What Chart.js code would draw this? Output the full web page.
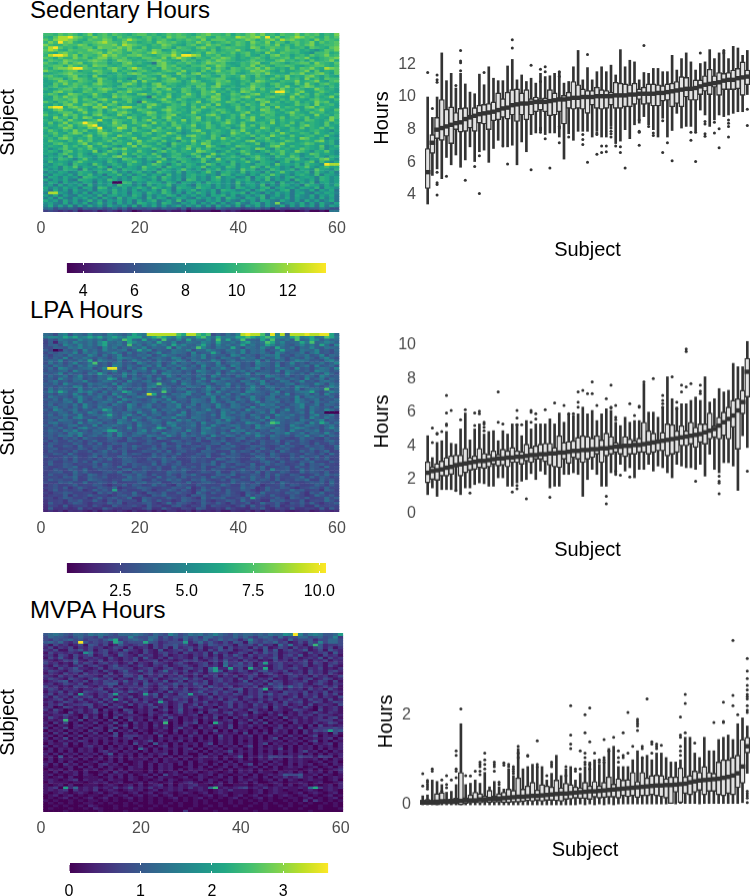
<!DOCTYPE html>
<html>
<head>
<meta charset="utf-8">
<script src="https://cdn.jsdelivr.net/npm/chart.js@4"></script>
<style>
  body { margin: 0; background: #fff; }
  #page { position: relative; width: 750px; height: 896px; overflow: hidden; font-family: "Liberation Sans", sans-serif; }
  canvas { position: absolute; }
  .title { position: absolute; left: 30px; font-size: 24px; line-height: 28px; color: #000; }
</style>
</head>
<body>
<div id="page">
  <div class="title" style="top:-4px">Sedentary Hours</div>
  <div class="title" style="top:296px">LPA Hours</div>
  <div class="title" style="top:596px">MVPA Hours</div>
  <canvas id="heatSed"></canvas><canvas id="barSed"></canvas><canvas id="boxSed"></canvas>
  <canvas id="heatLpa"></canvas><canvas id="barLpa"></canvas><canvas id="boxLpa"></canvas>
  <canvas id="heatMvpa"></canvas><canvas id="barMvpa"></canvas><canvas id="boxMvpa"></canvas>
</div>
<script>
// heat map rows, top row first, one base-36 digit per day (estimated by eye)
const sedentaryRows = [
"eedfefeceg cefdfedcef fdecdfefed cefgeedfce dfgegdecfe egdfefcedg",
"dcfhhigfde gefecfdedc efdecgeffd egfdcfeedh gfgheidgce fhgefdcfdf",
"fdghhgfdcf eegfcdfhfe dfcefdcedf edgcfffded egfcefgdhf gedecgdfed",
"dgeifgdcee fghfedgeec decgfefdce dgefcdefdf ecgedgcfeb efdegcfdef",
"geddfeegfc efffgdhgfe dcedgfdcbe fcdgefdbdf ecfdefdgce cfdfgcdeef",
"ehifdeceff cgffegegdc fcddfebfed cfgdebefed dcgfcefedf cdebfedcfg",
"fhgdcfeeeg fecfgfdgef ecgfbcfdee cdecfbdeeg dbcfedgcdf eecdb9cfeg",
"edcfgedfee fgdgefdcfe dfhfedgecb decgfdedfc efcdbgdcfe decb9eefcd",
"dhiihegcfe dfhfgedffg edceffheii hgcedfcdeb dfcbecfgde bdecfdegde",
"fecfddgefc eggdfefcdc ffedgcfhfe bedcfegfdb dcefdbedef cfegcbdefg",
"cfedgfeddf gfebdgfecd cefgedcbfd ebdfdgfedb cdfdeccfgd ecebfcdegc",
"fdcegdfgcd feebdcfgde cb7fgdcedf dcegfefcbc edfgbcfedb deffcgedcf",
"deffcgedfc gffdcdfedb cedfgefcdb eefcdgfdcb edgcfdbeef ecbdeffdce",
"ecfgghiife decfgecfhf dcebgedfcd dcegcfebfe dfegdgecdb fcfegdchgf",
"gedceffbdd gfddgcedbe fdbcefedgc dbfcegdefe cdgfgecbeb cdegbfbdcf",
"bcdefgeedc dfdbcecfgf cdefdcbgdb fgcdbeedfc bdefdgdccb fegcdfgdbf",
"efdcdfgcdb gcbdcedcbe fdcbgebcfd dbfecbfdcd gdbfdbcfdg cdcfgdbecb",
"ceffbegfec dgecbdc9bf defbdfgcdb ebcdeffcbc fdbeecfdbg debgcebfee",
"bcdgfdcfed bgddbfcdgb gdcbeffebd gebcdfefcb debgfdcbed dgcdegcbef",
"cbfdgdfedc fgedcbfgeb dbfgcedcbd eefcbgedcb ecfedbefdc bfcgdbefdc",
"bdfccefdfd eecdbefcdb ecegfcdbce bfecfgcbdb cdgedbcfdg cbegfcdbec",
"dbceffdcef cfgfdbcfef dbfcegbcfe bdfcedbecb fegcfcdbgd cfdbcgecdb",
"bcfgdebcfe defcbfegdc bcefcddbfe cbfegcdbec gfdcdcfiie cegcbdfdcb",
"dfebcgfecd gdbcfdecbf gdbecfbcdg dbfedgbcfe bdfgcdbefc dgcebfdbce",
"cbfdgefcdb fdcbgefedc b7fcdgbcfe dbecgfcbed fgdbcefdcb gcfdbecdgb",
"bcfedfgcfe bfgdcbefcb dcbegdcfdb cdbefgcbfe bdcgfdbcec fdcbefdcbe",
"fdbefdgcde fbecgdcfb7 gdcbefdbec dgbcfdcfeb ecdbfgcebd cfbdcgefbc",
"cbecfgdcgf dgcfebdcbe cfgdbcedfb ecdfbgcbde bfdcgbedcb cfdebgcdeb",
"dhiicfgedb gfhcdfhhed bgdcbfedcb fcgdebcbcf dbecdfbgce dcbfgcedcb",
"bcfgdcdgeb cfbegdecbf edbcfgecdb efcbdfecbf dcebgfdbec cfbdcegcbf",
"dbceffbdgc efbdcfgebc egfbcfdecb gdbcecfdbc egbcdfecbe gdcbfdebcd",
"fcdbgefcdb fgdbcgebdc bfecdfgbcd ebcfgdbcec gbdcfdebcb fdecbgcdbe",
"cbgdebfcgf bcfedbcgeb dcfbegcdbc egbdcfbceb fdgcbedcfb decfbdcbge",
"dbefcgdcbd ehcbfedcfb egcdbfdcgb efbdcebfdb cegbcdfbec dcbfecbdgc",
"cfbdgcefig fbdcgebcfd dbgcebfcdb ecdfbcegdb fcbdecgbdc fbecdcbfbd",
"bdcfdgcefh ibcdfegcbd gebcdbfecd gbcfdbecbd gcfbedcbdf cbegdcbfcb",
"ebcdgfbdcg fibcdhgcfb decfbecgbd ebcfdbceab fdcbgebdcb ecfbdcfbeb",
"cfdbecgdfb cgdbefcbfd cbgedcbeab fgcbdecbfd gcbecdbfbc edcbdecb9c",
"bdfcbegfbd cfgecbdfbc efbdcgeb9b cdfbedcbge cfbdcbecgd bcedbfcbdb",
"dbecfdcbeg bdfcbgedcb ecbdfcbebf gdcbfd9bec dcfbecgdcb fcbdebcfb9",
"cdbfgebdcf cbedfcbdgb bcfecbdgcb edcbfcgdbe cb9edfbcec dbgfcbe9cb",
"bfdcbecgdf bcdfbecbdg cedbfbc9ec gbdfcbdcec bfgbcedbcf ebcdcfgbd9",
"cbefdbcegb dfcbedcgbf dcbeb9fdcb ecgfbcdebc dbcf9bedgc bcdfebcbd9",
"bdcbfcebdg bcfdb9cdgb fecbd9ebcf dcbgeb9cbf edcb9cfgdb ecbdcbf9bd",
"c9bdfcbecf dbc9fegcbd cbfd9ecbdg bfcebdcbe9 cdbgfb9ecd bcfdcbe9cb",
"bdc9efbdcb g9cfdbecbf cb9dfcebdc bgfdc9bebc fdb9cebdfc bgec9dcfb9",
"cb9dfcbeb9 cdfbc9gbec dbfc9bdebc fd9bgcebc9 dfbcb9ecfb dc9bfebcb9",
"9cbd9fbecb 9dcbfgcb9e bdcf9bedb9 cfbgd9bcec 9bdfcb9ecb fd9cbeb9dc",
"bc9edb8cfb 9cbdb9fecb 9dcbf9bedc 9bfc9gbdcb e9cfdb9cbe dfb9cbfgc9",
"9ebcb9dfcb cb9ec9bdfc 9b8gcbd9ec bcf9bdc9eb cfb9dcb8ce 9cbdf9eb9c",
"b9cdb8ecb9 fc9bdb9ecb 9cfdb8cebd c9bfd9cbe9 cb9ddc9fbc bd9ecb9ihh",
"9bc8dbf9cb 9ec7bd9cb9 fcbd8ecb9d bcf9cb9ed9 cbfd9ebc9b 8dcfb9cebc",
"c9b8dcb7e9 bc9fb8dcb9 ebc8db9cfb 9c8dbe9cb9 fcd8b9ec9b d8cb9fcb9d",
"8b9cb89dcb 8dcbe9b8cd 9b8ecb9d8c b9cfb8cdb9 e9cb8d9cfb 9cbd8eb9c8",
"b8cb9c8dbe 9b7cbe9c8b d9cb8e9b8c dbc9b8ed9c b8c9dbfc9b 8cdb9e8cb9",
"7cb8c9b7ed c9b8c9b8dc 9bd8ec9b8c d9b8cf9bc8 9d7cbe9b8c d9bcb8dc9b",
"c8b9c87dcb 8b9ec8b9dc b9c8db9c7e d9b8cd9b8c bd8c9e8b9c 7db9c8dc9b",
"8cb7c9b8cb 7c9b00ed8b 9dcb8db7cb 9c8dbc9b8e 9cb8b9c7d9 b8c9d7bc9b",
"9b7c8b9c7d 8b9c8ebc8b 7d9cbe8bc9 7dbc8c9b8d 8bc9e7b8dc 9b7ecb8c9d",
"c8b8c9b7cb 7ed8b9c8bd b8ec9b7dcb 9ecb8c9b7d c9b8cd7bc9 b8cb9d7cb9",
"b7c8b7c98b 7cb9d9b8c8 b9c8eb7c9b d8b9c7dcb8 9c7bd9b8cd 7b98c7b9c7",
"8hhb97b8c7 b9c8dab7cb 8db9ec8b7c 9db8c7b9cb d7c97b8c9b 7bc87b9cb8",
"b8c7b87c9b 8d7bc9b8db 7c8b9dc7b9 c8b7cbd8c7 9b8bd79c8b 7c98c7b9c7",
"8b7c87b9c8 b7c97d8bc9 7d8cb79cb8 7c9b8c7db9 7cb8d7b98c 7b98b7c8b7",
"c9b7c8b79d 8c7b9c8b7c 8bd79c8e7b c87b9c7b87 c8b7cb87c9 7b7c8b79c7",
"9b87c7b8c7 9d8b7c8b7d c9b7dc87b9 c7b8c7b79d 87bc7b8g79 b8c7b7c87b",
"8c7b7c6b7c 8b7c98b7c6 b8c7b79c7b 8c7b6c8b7c 6b8c7b87c6 b7c8b6c7b9",
"6746565365 5645746355 4554655362 5544375444 3456452533 4534557644",
"3432324122 3123213201 2211121120 1111002121 0000000010 0012001077"
];
const lpaRows = [
"cb8de9dcae bcaedcadfe dhhhhhhgfh hgfg8b9dbe hihhgdiehb hhhihhiifc",
"deedfefdef efdefedfff cefgfedfdc dfgecfdddf fgfefgfeec fgdefcdgfd",
"7a8dcbaecd bdaedcgfca fbdagcbeaf bdceagcfbd gcbafdgcbd agbcfeadbc",
"6a3bdaecbd aefcbdafec bdafcbe9ad cbedafcbda efcbdgfcea bcfdgbceda",
"7ab8ecaebd aefbcdagbd 9cebdafceb adfc9ebdac fbdacfebda 9cebdafc8e",
"87ba9dcebc a8ebd9cadb e9cbaf8eba cgeb9dcafb 8dcaeb9fca d8cbea9dcb",
"a703b9c8ea c9ebacd8af ce8ba9dcbe 8cbeca9dcb e9cbd8acfb a8dcbe9a8c",
"7a9bcae8db d9aceb8d9a c8be9adcb8 e9abfc8bda e9cbda8ec9 abd8ce9a8b",
"96ab8dab9e c8d9be8a9c bd8aecb9a8 dbe9cab8ed 9ca8bdce9a 8cbd9ae8cb",
"a8b9e8cadb 9ca8bedca9 d8bca9ed8b cae9b8dca9 ebc8d9aeb8 ca9db8cea8",
"9cae8b9daf 8ecb9d8aeb 9c8da9bec8 db9aec8bd9 acbe8d9ac8 bedc9a8deb",
"8d9c8be9ad g9b8cd9a8e c9bd8ae9cb 8dca9e8bcd 9a8ecb9d8a e9b8cad9be",
"a8db9c8dae c9b8ed9ca8 bd9e8cadb9 c8ea9db8ec 9a8dcb9e8a c9bd8e9ac8",
"9c8eda9bcd 8aeiib8d9c e8abd9c8eb a9d8cbea8d 9bce8a9cdb 8e9a8bdc9e",
"8a9bc8eb9a d8cbe9a8db c9e8adbc9a 8edb9c8aeb d9c8ab9e8d ca9b8edc9a",
"a9be8c9a8d bfc8a9ebd8 a9c8edab9c 8bda9e8cb9 ae8dcb9a8e b9c8da9eb8",
"8c9ad8be9a 8cbd9ae8c9 bd8a9eb8ca 9db8ec9a8d bc9a8edb9c 8a9db8ec9a",
"9a8eb9cd8a 9cbfe8a9db 8c9e8abd9c 8ae9b8dca9 8bec9a8db9 ca8e9bd8ca",
"8bd9a8cbe9 8adc9b8ea9 cd8b9ae8cb 9da8ecb9a8 dc9be8a9dc 8be9a8cdb9",
"a9c8eb9a8d bca9e8db9a 8cdgb9a8ec 9bda8cbe9a 8dc9eb8a9c d8ba9ec8db",
"9a8ba9ed8c 9bda8ecb9a 8de9cb8a9d cb8ea9bd8c 9aeb8dca9b 8edc9a8bec",
"8d9cba8e9a db8c9ea8bd 9c8aeb9cd8 a9bec8da9b 8cea9bd8ca 9e8bdcag9b",
"aebfd9bece a8d9cbfea9 8dcagb8a9e c9bd8ea9cb 8edca9be8a 9cddfa8bec",
"9a8cb9ea8d 9cb8ea9dc8 bhf9a8cbde 9a8ebc9d8a ec9ba8dc9e 8abd9c8ea9",
"8db9a8cea9 bd8c9ea8bd c9a8eb9cd8 a9cbe8da9c 8bea9cd8ba 9e8cdba9c8",
"a9c8db9ea8 cb9da8ecb9 8adc9e8ba9 dcb8e9ac8d b9ea8cdb9a 8ec9bd8a9c",
"8ba9cd8e9a 8bdc9ea8cb 9ad8cbe9a8 dcb9ea8cd9 b8ae9cbd8a 9ecb8da9cb",
"9c8ab9d8ea 9cb8da9ec8 bd9a8cbe9a d8cb9ea8dc 9b8aecd9a8 bce9ad8cb9",
"8ad9b8c9ea 8dbc9a8eb9 cd8a9cbe8d a9cb8ea9dc b8e9acbd8a 9ce8db9a8c",
"a8ec9bd8a9 cbfe9a8dbc 9ae8cbd9a8 c9bea8dc9b 8eacb9d8ae 9cb8da9ec8",
"8a9cb8da9e c8bda9cb8e a9db8ca9e8 bdc9a8ebd9 ca8bd9e8ca 9bd8e9a000",
"9c8bda9e8a cbdfb9cea8 d9bc8a9ed8 bca9d8eb9a c8db9a8ecb d9a8ce9bd8",
"8ab9c8dea9 8cbda9e8bc 9da8cbe9a8 dcb9a8edc9 b8ad9e8cbd a9c8eb9da8",
"9a8dcb9a8e c9ba8dc9ea 8bdc9a8ebd 9ca8bd9ea8 cb9ad8ecb9 a8db9ce8a9",
"8cd9ab8e9c bd8a9ecb8d a9cb8eda9b c8ea9dcb8a 9edb8cgfa9 bdc8eafd9c",
"a8b79cd8a9 e8cbda9c8e ba9d8ce9ab d8c9ea8bdc 9a8ebdc9a8 eb9dca8bd9",
"8a9c8b7dea 9cbd8a9e8c a9bfe8cd9a b8dea9cb8d 9a8ecb9da8 cedb9a8ceb",
"9ca8dbe9a8 cbdffb9a8c e9db8acb9e a8dcb9a8ec d9b8a9dcb8 ea9cbd8a9c",
"8b9a8dcea9 bc8d9ea8bd c9a8ebc9d8 a9ecb8da9c 8ebd9a8cbe 9ad8cb9ea8",
"9a8cbd9e8a c9bd8ea9cb 8dca9eb8da c9b8ea9dc8 ba9ec8db9a 8cbe9ad8ca",
"7a96a8b6c9 877ba96c87 9a6db877a9 6b8c97a68b c79a86ba97 68c9a76b88",
"96a77b8a69 c78a966ba8 7b9668ca79 8b66a9c78a 69b7a88c69 a7b9687ac9",
"6a9787b96a 7c68a9b776 9a88c67a9b 7698ab6c87 9a67b89a6c 78a96b77a8",
"8b67a96c78 a97b66a8c9 77a6b98c67 9a8b76a9c8 67ba9768c9 a76b89a67c",
"79a6787b96 a88c69a7b6 79c8a67b98 a66c79ab87 69a7c86a9b 7688c9a76b",
"6a8796b77a 69c8a7b667 a98b7c69a7 86ba9677c8 a96b78a6c9 77b8a69c67",
"77a96c8667 b9a776c8a9 66b7a98c67 7a9b68c7a9 67b8a6c977 a86b97a6c8",
"9667a8b769 c6a87ba967 78c9a6b768 a97c668ba9 767ca8b966 a7c89b6a77",
"6897a6b779 6a8c67ba97 6a78c9b667 a8976cb7a8 66a9c77b86 a97c6a8b67",
"7a6698b7a6 c97867ab96 78a6c97b66 a897c67ab9 6877ac96b7 86a9c776a8",
"6b77a96878 a6c966b7a9 87c6a79b68 77a9c6b86a 97c67b8a96 78c6a9b776",
"8667a9c676 b8a97c66a8 b97a66c897 a7b669c8a7 69b8c6779a 6b87a96c78",
"76a86b97c6 7a9886bc67 a97b66a8c9 77a6b98669 c8a7b6e99a 67c8b9a677",
"689a67c8b7 669a8c76b9 a6787ca9b6 68a97c66b8 a97c6a87b9 66c8a97b67",
"6a7796b86c a79667ba8c 96a77b86a9 c8667ba9c6 78a96b7c86 a9667b8c9a",
"7786a9c67b 98a6677c9b a86c79a6b7 88a6c97b66 a8c97b6a77 89c6b7a968",
"6a8977b66c a97687cb9a 66a78c9b76 a9c867a6b9 77c8a96b68 7a9c66b8a7",
"866a9b77c6 8a97b6677a c89b66a97c 68ab9677c8 a96b87a6c9 7768a9b6c7",
"579668b677 a96578b6a9 67c8a65b97 6a8777c966 b8a95778b6 a9667b96a7",
"6796a57b86 6a97c5678b a96677a98c 56b7a96877 c9a56b87a9 6578a96b77",
"57a6867956 b8a7f69667 a8577b96a7 58c97a6b77 a9656b8a77 c9a6785b96",
"6578a96677 5b8a6977c6 5a97b66a87 5c96a77b86 5a96c7786a 9b75a8c677",
"5676a5967b 867569a7b8 65a9c77685 a9b7669a87 5c7a96b766 a8756c97a6",
"6757a96685 7b69a78c55 a9767b86a9 65c7a9b668 a7f9667a85 b97a667c8a",
"5767598a66 b7596a7785 c96a6756b9 87a6577a96 c86755b9a7 66a5787c96",
"5a6757a965 676b8a5767 9a657c6a97 56b86a7596 7a56c87a65 97a6b6578a",
"4765a56675 9655a76796 5a67559a65 76a5976657 a5b6757a56 76955a6776",
"4a55645a56 45a7556645 7a55a65476 5a95565a65 5476a54765 a55665a5a6",
"3535254532 5254353253 3524255335 2534352254 3525253353 2345235434"
];
const mvpaRows = [
"5676546657 6765466676 5465486457 6756865465 6656576698 i85787556a",
"4655435644 3634444854 4663535464 5366454464 6435653634 4664564583",
"4354564534 4357b34565 4753434263 5463464542 4843454326 3445244664",
"5646324i53 4342b73444 b5423444a2 4635324254 1643546341 2425384664",
"3142312415 4241253234 3142445342 1425434314 3425231637 2314c52334",
"2413241324 2312431412 3142415234 2412351423 3142512431 4231352413",
"3241143524 1342315321 4215123425 1314253412 3421525134 2351241532",
"1423232196 2341243121 4213423142 3241523124 3142534123 3214234152",
"2314314235 1242153214 2312412321 3241314253 1423324134 2512314231",
"1425214132 3214213241 5213142321 4132413324 2314235132 4123251423",
"3212435213 2413213241 2341321243 4213425231 4231214231 3241324132",
"4231215243 1342312413 2143213421 2341316335 2413a23423 2341431342",
"2142312413 4213523124 2132412342 1342317244 3413213421 3241231421",
"3214235221 2413443312 3421342134 2316a22a24 1b32b13423 4213241213",
"2432134412 3142135225 2413623241 2415a51324 3124523241 2314231342",
"1321423142 3214124321 3423324132 4213324212 3241342134 2314231421",
"3214231433 2142314425 1324132421 3142413241 2431124213 4231423124",
"2432143213 5324132135 3241234352 4312342314 2413241213 2134124312",
"1234513241 3243425232 4132512413 3241342312 5132414312 3241243141",
"2312432412 3245513241 5324235342 5341324223 3423153412 3421342132",
"4231214342 1324132332 4213424132 3415323412 3241324536 3423124241",
"2431323122 3412421324 3213413241 2342341345 1324b13413 2314231421",
"1324132143 2341342532 4123152342 3523424314 1324132143 3241324132",
"2413241a32 1324a23112 a35132143a 2341423243 1324352342 3142314241",
"3142314234 1324132412 3241423342 3124132321 3424132312 4132413214",
"1234132412 3142a31241 3214124231 4123241341 3213241324 2314231412",
"2312431231 2413124132 412a312341 3241213423 1324123142 3412431243",
"1324123344 1241321413 2412312412 4132312413 2142313241 2314123214",
"2301431214 1203241013 1341302413 2412032413 2132404213 2142031231",
"3142012312 4031204312 1302412512 0213412132 1431203211 4321041231",
"1231041312 4120312402 1321202412 1403213412 2042131202 1312421321",
"2122421031 2030231221 0312421212 3021321312 4121021412 1323133212",
"1421312041 3020402312 1203142021 2131402031 2120312041 2131231341",
"1212c21402 1203020412 0312412021 3021212302 1413021202 3121233312",
"2031402021 3021402031 2021c02032 4020b31203 2031402120 3121312431",
"1202102312 0213024021 2031202131 0213121402 1312021302 1203041212",
"3021402120 3202402031 2021302412 0312021402 1202102312 1402233343",
"0212021203 1204021302 1012103021 2021402031 2020203120 2031434a45",
"2031302021 3020402120 2031202021 3020212120 4021302120 2031212041",
"1202021302 1212403332 1204021203 1202041202 1302021203 1202402120",
"2021402021 2120212302 1202120212 0202031202 1202024021 2021212302",
"1202121320 2021202021 2402021302 0212021202 0202121202 1202402021",
"0211302021 2020212041 2051202021 2024021202 1202402121 2020212302",
"2021201023 1202021202 0202302120 2021202120 2402021202 0212021202",
"0202120212 0202120206 2020212023 0202120212 0202121402 0212020212",
"1202020212 0231202120 2021202021 2020212402 1202020212 0241202021",
"2020212021 2025021202 0212302020 0202120212 0202120202 1202020212",
"1205020212 0202120202 1202020212 0231202125 0213144333 1433143302",
"0202112020 1202020211 2020212020 1211202012 0202131202 1211202021",
"1202020101 2012020012 0120211202 0210120202 1101202102 1210120120",
"2020312021 0231202012 0202120202 0120202120 2402021202 0212012021",
"1010120202 0202110212 0202120012 0202012021 0120202012 1201201202",
"0212020021 2012020211 0202120202 1210120202 1202012011 1012020123",
"1020212020 0120312011 0202012021 2012101202 1202110212 0202120202",
"1201012021 0202120201 2020412101 0212021011 2020121254 4511202101",
"1012020011 1012020210 1202110120 1210120202 0120202131 2412020121",
"1210123021 1202110210 1012021011 0202101202 1210120202 1012110120",
"0211101101 2120120012 0210120123 1012020201 2020012101 1210120012",
"1012020011 1012101202 0123020212 3110120011 1012101202 0120101202",
"1230a26121 3121312412 1312121213 1216c12123 4121312121 1216b31212",
"1212303121 3012101212 0120121201 1210121311 1012012101 1012101210",
"1012101210 1201210120 1201210121 0120121011 1012012110 1201210120",
"0120120101 1012012012 0120120101 1012012012 0120120121 0120101201",
"0101201012 0120101201 0101012010 1201010120 1012010101 1012010120",
"1010010101 1010100101 0101001010 1010100101 0101010010 1030310101",
"0101010011 0101001010 0101010100 1010010101 0010101001 0101001010",
"0010100102 1000101001 0010100100 1001010010 0100100101 0010010010",
"0100010010 2100100010 0100010001 0010001000 1000100010 0100010001",
"0000100000 0100001000 0000010030 0000100000 0010000000 0001000000"
];

// hours meant by each digit of the rows above
const sedLevels = [3.5,4.1,4.7,5.3,5.8,6.3,6.8,7.3,7.8,8.3,8.7,9.1,9.5,9.9,10.3,10.8,11.4,12.2,13.4];
const lpaLevels = [0.5,0.9,1.2,1.5,1.8,2.0,2.4,2.6,2.8,3.1,3.4,3.6,3.9,4.3,4.9,6.2,7.4,9.2,9.9];
const mvpaLevels = [0,0.2,0.4,0.6,0.8,1.0,1.2,1.4,1.6,1.8,2.0,2.2,2.4,2.6,2.8,3.0,3.2,3.4,3.6];

// colour bar ranges and ticks
const sedRange = [3.35, 13.5];
const lpaRange = [0.48, 10.25];
const mvpaRange = [0, 3.63];
const sedBarTicks = [4, 6, 8, 10, 12];
const lpaBarTicks = [2.5, 5, 7.5, 10];
const mvpaBarTicks = [0, 1, 2, 3];
const dayTicks = [0, 20, 40, 60];
const sedHourTicks = [4, 6, 8, 10, 12];
const lpaHourTicks = [0, 2, 4, 6, 8, 10];
const mvpaHourTicks = [0, 2];

// boxes, one entry per subject sorted by median
const sedLow = [3.45,5.2,5.6,5.0,6.3,5.85,6.45,5.7,6.15,6.95,6.05,6.65,6.75,6.0,6.85,7.35,7.05,6.95,7.05,5.85,7.25,6.65,7.7,7.8,7.9,7.7,7.8,7.8,7.55,6.2,7.75,7.35,7.9,7.9,7.9,7.55,7.9,7.55,7.55,8.2,7.15,7.3,8.0,7.45,8.3,8.4,8.8,8.3,8.0,7.55,8.7,7.55,7.95,9.0,8.1,8.2,8.2,7.9,9.2,8.9,8.2,8.6,8.9,8.8,8.9,9.0,9.1,9.1,10.15];
const sedQ1 = [4.4,6.55,7.45,7.35,7.6,7.15,8.0,7.85,7.9,8.1,7.9,8.4,8.35,8.0,8.55,8.6,8.75,8.65,8.9,8.5,8.9,8.6,8.9,9.1,9.2,9.1,8.85,8.9,9.1,8.35,9.3,9.25,9.3,9.25,9.0,9.5,9.3,9.25,9.3,9.5,9.3,9.3,9.4,9.4,9.55,9.85,9.55,9.6,9.45,9.45,9.75,9.8,9.4,9.6,9.4,10.0,9.8,9.8,10.15,10.35,10.15,10.6,10.1,10.45,10.45,10.45,10.5,10.1,10.75];
const sedMedian = [5.4,7.2,8.0,8.1,8.2,8.3,8.4,8.45,8.65,8.75,8.85,8.95,9.0,9.05,9.1,9.2,9.3,9.35,9.5,9.55,9.6,9.6,9.65,9.7,9.7,9.7,9.75,9.8,9.85,9.85,9.9,9.95,9.95,10.0,10.0,10.0,10.05,10.05,10.05,10.05,10.1,10.1,10.1,10.15,10.15,10.2,10.2,10.2,10.2,10.25,10.25,10.3,10.35,10.4,10.45,10.5,10.5,10.55,10.65,10.75,10.8,10.85,10.9,11.0,11.05,11.05,11.15,11.2,11.25];
const sedQ3 = [6.85,7.7,8.75,9.85,9.25,9.4,9.05,9.3,9.35,8.9,9.35,9.5,9.55,9.6,9.7,10.25,9.9,10.3,10.45,10.5,10.25,10.45,9.9,10.0,9.9,9.95,10.45,10.25,9.9,10.1,10.3,10.95,10.75,10.5,10.4,10.4,10.6,10.45,10.4,10.3,10.9,10.85,10.8,10.75,10.85,10.5,10.6,10.8,10.8,10.75,10.7,10.8,10.85,10.95,11.25,11.2,10.6,11.05,11.05,11.3,11.7,11.3,11.5,11.45,11.5,11.65,11.75,12.15,11.65];
const sedHigh = [10.0,8.75,10.0,12.7,11.0,11.45,10.55,11.45,10.8,10.3,10.2,11.4,10.75,11.85,11.15,11.0,11.0,11.9,12.3,11.05,11.35,10.95,11.15,10.85,11.45,11.25,11.3,11.45,11.55,10.85,10.95,11.85,12.85,11.05,11.8,11.05,11.55,11.85,11.55,11.95,11.35,12.9,11.85,12.25,12.15,11.05,11.5,11.45,11.75,11.75,11.55,11.55,12.55,11.65,12.35,12.7,12.15,11.65,12.05,12.15,12.9,12.35,12.7,12.8,12.35,13.1,13.0,12.55,12.85];
const sedOutliers = [[1,11.5],[2,9.3],[3,11.35],[3,11.05],[3,10.9],[3,5.4],[3,4.75],[3,4.65],[3,4.0],[5,5.15],[7,10.7],[8,12.85],[8,12.2],[8,12.1],[8,11.6],[9,4.9],[11,5.75],[12,6.4],[12,4.1],[13,11.5],[17,7.0],[18,5.9],[19,13.5],[19,13.0],[23,11.95],[23,5.55],[25,11.7],[25,10.95],[25,8.1],[25,8.0],[25,7.85],[26,11.85],[26,11.55],[26,7.45],[27,5.65],[29,11.55],[29,11.25],[29,8.2],[29,8.1],[29,7.2],[31,7.55],[34,7.7],[34,7.4],[34,7.1],[35,12.6],[35,6.0],[37,7.8],[37,7.7],[37,6.5],[38,7.0],[38,6.6],[39,7.0],[39,6.65],[40,8.1],[40,7.9],[40,7.75],[40,7.55],[41,7.0],[42,6.95],[42,6.6],[43,5.65],[46,8.6],[46,7.9],[46,7.85],[46,7.05],[47,13.15],[48,8.2],[49,7.8],[49,7.65],[51,8.55],[51,6.6],[52,7.2],[53,6.1],[57,7.85],[57,7.35],[58,7.85],[58,6.05],[59,12.7],[60,8.5],[60,8.35],[60,7.75],[60,7.6],[62,8.45],[62,7.8],[63,8.05],[63,6.9],[64,12.85],[64,12.7],[65,8.6],[65,8.4],[65,8.2],[65,7.55],[69,9.25],[69,8.25]];

const lpaLow = [1.1,1.5,1.0,1.4,1.4,1.4,1.3,1.1,1.5,1.5,1.7,1.8,1.75,1.6,1.6,2.1,2.1,1.6,1.6,1.8,1.9,2.0,2.35,2.0,2.5,2.3,1.5,1.6,1.6,2.3,2.3,2.4,2.3,1.0,2.0,2.6,2.3,1.6,1.6,2.4,2.5,2.9,2.5,2.7,2.1,2.6,2.6,2.9,2.5,2.8,2.7,2.4,2.1,2.9,2.8,2.7,2.7,2.6,2.9,2.2,3.5,2.6,2.4,3.0,3.0,2.8,1.35,4.6,3.9];
const lpaQ1 = [1.8,2.0,1.95,2.2,2.2,2.3,2.8,2.2,2.4,2.55,2.6,2.7,2.65,2.75,2.9,2.8,2.85,2.75,3.0,3.0,2.9,3.1,3.0,3.2,3.2,3.05,2.85,2.75,2.7,3.2,2.95,3.3,3.2,3.0,3.2,3.3,3.5,3.0,3.4,3.5,3.6,3.5,3.35,3.5,3.5,3.6,3.6,3.5,3.6,3.7,3.7,3.4,3.5,3.6,4.0,4.0,4.1,3.9,4.2,4.1,4.4,4.5,4.4,4.6,4.4,5.1,3.8,5.9,6.9];
const lpaMedian = [2.4,2.5,2.55,2.6,2.7,2.75,2.85,2.9,2.95,3.0,3.05,3.1,3.1,3.15,3.2,3.25,3.25,3.3,3.3,3.35,3.35,3.4,3.45,3.45,3.5,3.5,3.55,3.55,3.6,3.6,3.65,3.7,3.7,3.75,3.75,3.8,3.8,3.85,3.85,3.9,3.95,3.95,4.0,4.0,4.05,4.05,4.1,4.15,4.2,4.25,4.3,4.35,4.4,4.45,4.5,4.55,4.6,4.65,4.7,4.8,4.9,5.0,5.2,5.4,5.6,5.8,6.1,6.6,8.4];
const lpaQ3 = [3.05,2.75,2.95,3.1,3.3,3.4,3.45,3.45,3.85,3.3,3.4,3.85,3.55,3.5,3.7,3.5,3.8,3.7,3.9,3.7,3.65,4.1,3.9,4.0,4.1,4.15,4.15,3.9,4.6,4.2,4.25,4.3,4.5,4.6,4.55,4.45,4.6,4.35,4.75,4.55,4.2,4.1,4.55,4.4,4.3,4.45,5.4,4.9,4.75,4.35,4.8,5.3,5.25,4.9,5.2,4.9,5.4,5.1,5.3,5.3,5.95,5.2,5.7,6.0,6.3,6.7,6.8,7.3,9.2];
const lpaHigh = [4.6,3.3,4.2,4.3,4.85,4.15,4.1,5.0,5.95,4.35,5.0,5.3,4.7,4.85,4.9,4.3,4.9,4.7,5.3,5.3,4.6,5.5,5.0,5.3,5.3,5.3,5.6,5.3,5.95,5.4,5.9,5.8,5.9,6.3,5.9,6.1,5.5,5.9,6.2,6.1,5.4,5.2,5.7,5.4,5.5,5.5,7.7,6.0,6.0,5.7,6.3,8.1,6.8,6.3,6.5,6.5,6.7,6.9,6.7,8.1,6.6,6.8,7.4,7.2,7.3,8.9,8.7,8.7,10.2];
const lpaOutliers = [[2,5.05],[2,4.2],[3,4.75],[3,4.7],[4,4.85],[5,7.0],[5,5.95],[5,5.3],[5,5.2],[6,6.1],[7,1.35],[8,5.55],[9,6.15],[10,1.2],[11,5.95],[11,5.2],[12,6.05],[12,5.9],[13,5.4],[13,5.3],[13,5.1],[13,4.9],[16,7.2],[16,5.4],[17,5.3],[19,1.25],[20,6.1],[20,5.65],[20,5.25],[20,1.65],[20,1.45],[21,5.25],[22,0.85],[23,6.1],[23,6.0],[23,5.4],[24,5.9],[24,5.6],[26,6.15],[27,0.95],[28,6.55],[30,6.4],[31,5.9],[32,5.9],[33,7.2],[33,6.6],[33,6.3],[34,7.3],[35,7.1],[36,7.8],[36,7.1],[37,6.4],[39,6.8],[39,1.0],[39,0.55],[40,7.6],[40,6.3],[40,6.25],[41,6.4],[41,5.7],[41,5.55],[41,2.5],[41,2.4],[41,2.3],[42,2.25],[44,6.5],[44,2.15],[45,5.8],[46,6.35],[46,6.3],[47,7.8],[49,8.0],[51,7.0],[51,6.7],[51,6.5],[51,6.3],[53,8.1],[54,6.6],[54,6.2],[55,7.6],[55,7.2],[56,9.75],[56,9.6],[56,7.5],[57,7.7],[58,1.9],[59,7.6],[59,7.25],[59,7.1],[63,2.2],[63,1.9],[63,1.8],[63,1.15],[69,2.5]];

const mvpaLow = [0,0,0,0,0,0,0,0,0,0,0,0,0,0,0,0,0,0,0,0,0,0,0,0,0,0,0,0,0,0,0,0,0,0.02,0,0.02,0,0.02,0,0.02,0,0.02,0.02,0.02,0.02,0.02,0.02,0.02,0.02,0.02,0.02,0.02,0.03,0.02,0.03,0.03,0.03,0.03,0.02,0.03,0.03,0.03,0.03,0.03,0.03,0.03,0.03,0.05,0.7];
const mvpaQ1 = [0.01,0.01,0.01,0,0.02,0.02,0.02,0.02,0,0.03,0.04,0.05,0.04,0.06,0.05,0.06,0.06,0.05,0.05,0.06,0.06,0.07,0.09,0.08,0.1,0.08,0.1,0.1,0.09,0.08,0.12,0.13,0.15,0.14,0.14,0.12,0.17,0.15,0.16,0.17,0.17,0.15,0.2,0.18,0.2,0.16,0.2,0.2,0.22,0.2,0.18,0.15,0.03,0.28,0.05,0.25,0.22,0.28,0.32,0.22,0.3,0.3,0.22,0.2,0.25,0.22,0.38,0.48,1.15];
const mvpaMedian = [0.06,0.06,0.06,0.07,0.08,0.08,0.08,0.09,0.09,0.1,0.1,0.1,0.12,0.12,0.13,0.14,0.14,0.15,0.16,0.17,0.18,0.18,0.19,0.2,0.2,0.21,0.22,0.23,0.24,0.25,0.25,0.26,0.27,0.28,0.29,0.3,0.3,0.31,0.32,0.33,0.34,0.35,0.36,0.37,0.38,0.39,0.4,0.41,0.42,0.43,0.43,0.44,0.44,0.45,0.46,0.47,0.5,0.52,0.54,0.55,0.56,0.57,0.58,0.6,0.62,0.65,0.7,0.85,1.3];
const mvpaQ3 = [0.1,0.12,0.1,0.25,0.27,0.1,0.13,0.15,0.72,0.16,0.22,0.28,0.25,0.2,0.32,0.2,0.25,0.28,0.35,0.32,0.6,0.35,0.42,0.5,0.33,0.45,0.42,0.4,0.55,0.38,0.48,0.45,0.4,0.38,0.5,0.42,0.52,0.42,0.5,0.62,0.46,0.58,0.55,0.56,0.72,0.52,0.72,0.6,0.65,0.66,0.65,0.58,0.62,0.62,0.82,0.62,0.65,0.75,0.72,0.85,0.72,0.7,0.95,1.0,1.0,1.05,1.1,1.45,1.5];
const mvpaHigh = [0.2,0.22,0.55,0.52,0.45,0.28,0.3,0.45,1.8,0.45,0.48,0.55,0.48,0.72,0.4,0.52,0.4,0.35,0.8,0.65,1.25,0.8,0.85,0.9,0.85,0.85,0.55,0.7,1.1,0.65,0.8,0.85,0.55,0.7,0.85,0.95,1.0,0.9,0.95,1.25,1.3,0.85,0.85,0.85,1.0,1.2,1.05,1.1,1.0,1.15,1.15,1.05,0.95,0.95,1.0,1.5,1.5,1.15,1.05,1.5,1.2,1.2,1.45,1.5,1.55,1.45,1.8,1.93,1.75];
const mvpaOutliers = [[1,0.69],[1,0.42],[2,0.54],[2,0.5],[2,0.45],[2,0.4],[2,0.35],[3,0.8],[3,0.75],[5,0.55],[5,0.3],[6,0.65],[6,0.45],[6,0.38],[7,0.55],[8,1.2],[8,1.1],[8,0.8],[8,0.75],[8,0.6],[9,2.13],[10,0.65],[11,0.64],[12,0.75],[13,0.95],[13,0.9],[13,0.85],[13,0.75],[13,0.67],[14,1.15],[14,1.0],[14,0.9],[14,0.8],[16,0.95],[16,0.9],[16,0.85],[16,0.75],[17,0.5],[17,0.45],[18,0.93],[18,0.88],[19,0.9],[19,0.85],[20,0.85],[20,0.8],[20,0.75],[20,0.7],[21,1.3],[21,1.15],[21,1.05],[23,1.1],[23,1.08],[25,1.42],[25,0.9],[25,0.85],[27,0.65],[28,0.95],[28,0.9],[28,0.85],[31,0.85],[31,0.65],[32,2.2],[32,1.55],[32,1.35],[32,1.25],[33,0.8],[33,0.75],[34,1.2],[34,0.8],[35,2.0],[35,1.6],[35,1.15],[35,1.05],[35,0.95],[35,0.9],[36,2.15],[36,1.4],[36,0.9],[36,0.8],[37,1.15],[38,1.0],[38,0.95],[39,1.45],[39,1.05],[39,1.0],[39,0.95],[40,1.2],[41,1.5],[42,1.2],[42,1.05],[42,0.95],[43,1.6],[43,1.1],[43,1.05],[44,2.05],[44,1.15],[45,1.3],[46,1.9],[46,1.85],[46,1.8],[46,1.75],[46,1.65],[47,1.3],[47,1.25],[47,1.05],[48,2.35],[49,1.4],[49,1.35],[49,1.15],[50,1.35],[50,1.3],[50,1.25],[51,1.32],[55,1.95],[55,1.55],[55,1.5],[55,1.3],[55,1.2],[55,1.1],[56,2.45],[56,2.25],[56,1.6],[58,1.37],[62,1.83],[64,2.28],[64,1.85],[64,1.83],[66,3.65],[66,2.43],[66,2.2],[67,2.0],[69,3.25],[69,2.97],[69,2.8],[69,2.65],[69,2.55],[69,2.45],[69,2.4],[69,2.35],[69,2.2],[69,2.1],[69,2.05],[69,0.3],[69,0.25],[69,0.2],[69,0.15],[69,0.05]];

const viridisStops = ['#440154','#482475','#414487','#355f8d','#2a788e','#21918c','#22a884','#44bf70','#7ad151','#bddf26','#fde725'];
const FONT = '"Liberation Sans", sans-serif';
const TICK = '#4d4d4d', DARK = '#333333';

function viridis(t) {
  t = Math.min(1, Math.max(0, t)) * (viridisStops.length - 1);
  const i = Math.min(Math.floor(t), viridisStops.length - 2), f = t - i;
  const a = parseInt(viridisStops[i].slice(1), 16), b = parseInt(viridisStops[i + 1].slice(1), 16);
  const mix = s => Math.round(((a >> s) & 255) * (1 - f) + ((b >> s) & 255) * f);
  return `rgb(${mix(16)},${mix(8)},${mix(0)})`;
}

function place(id, left, top, width, height) {
  const c = document.getElementById(id);
  c.width = width; c.height = height;
  c.style.left = left + 'px'; c.style.top = top + 'px';
  c.style.width = width + 'px'; c.style.height = height + 'px';
  return c;
}

function tickValues(list) {
  return scale => { scale.ticks = list.map(value => ({ value })); };
}

function drawHeat(id, top, right, rows, levels, range) {
  const canvas = place(id, 0, top - 10, 360, 210);
  const datasets = rows.map((row, i) => {
    const cells = [...row.replace(/ /g, '')];
    const y = rows.length - i;
    return {
      data: cells.map((c, j) => ({ x: j + 1, y: [y - 0.5, y + 0.5] })),
      backgroundColor: cells.map(c => viridis((levels[parseInt(c, 36)] - range[0]) / (range[1] - range[0]))),
      grouped: false, barPercentage: 1, categoryPercentage: 1, borderWidth: 0
    };
  });
  new Chart(canvas, {
    type: 'bar',
    data: { datasets },
    options: {
      responsive: false, animation: false, devicePixelRatio: 1,
      layout: { padding: { top: 10, right: 360 - right } },
      plugins: { legend: { display: false }, tooltip: { enabled: false } },
      scales: {
        x: {
          type: 'linear', offset: false, min: 0, max: 60.5,
          afterBuildTicks: tickValues(dayTicks),
          grid: { display: false, drawTicks: false }, border: { display: false },
          ticks: { color: TICK, font: { family: FONT, size: 16 }, padding: 7, maxRotation: 0, autoSkip: false, includeBounds: false },
          afterFit: s => { s.height = 21; }
        },
        y: {
          type: 'linear', min: 0.5, max: rows.length + 0.5,
          grid: { display: false, drawTicks: false }, border: { display: false },
          ticks: { display: false },
          title: { display: true, text: 'Subject', color: '#000', padding: 0, font: { family: FONT, size: 20, lineHeight: 0.8 } },
          afterFit: s => { s.width = 41; }
        }
      }
    }
  });
}

function drawColourBar(id, top, left, right, range, ticks, fmt) {
  const canvas = place(id, 0, top - 4, 360, 42);
  new Chart(canvas, {
    type: 'bar',
    data: {
      labels: [''],
      datasets: [{
        data: [[range[0], range[1]]],
        barPercentage: 1, categoryPercentage: 1, borderWidth: 0, inflateAmount: 0,
        backgroundColor: ctx => {
          const area = ctx.chart.chartArea;
          if (!area) return viridisStops[0];
          const g = ctx.chart.ctx.createLinearGradient(area.left, 0, area.right, 0);
          viridisStops.forEach((c, i) => g.addColorStop(i / (viridisStops.length - 1), c));
          return g;
        }
      }]
    },
    options: {
      indexAxis: 'y', responsive: false, animation: false, devicePixelRatio: 1,
      layout: { padding: { top: 4, left, right: 360 - right } },
      plugins: { legend: { display: false }, tooltip: { enabled: false } },
      scales: {
        x: {
          type: 'linear', min: range[0], max: range[1],
          afterBuildTicks: tickValues(ticks),
          grid: { z: 1, color: '#ffffff', lineWidth: 1, drawTicks: false },
          border: { display: false, dash: [2, 6, 2, 0] },
          ticks: { color: '#000', font: { family: FONT, size: 16 }, padding: 9, maxRotation: 0, autoSkip: false, callback: fmt },
          afterFit: s => { s.height = 28; }
        },
        y: { display: false }
      }
    }
  });
}

function drawBoxes(id, left, top, bottom, axisWidth, gap, yMin, yMax, hourTicks, low, q1, median, q3, high, outliers) {
  const canvas = place(id, left, top - 30, 750 - left, bottom - top + 30 + gap);
  const subjects = median.map((m, i) => i + 1);
  new Chart(canvas, {
    type: 'bar',
    data: {
      datasets: [
        { type: 'scatter', order: 0, data: outliers.map(o => ({ x: o[0], y: o[1] })), pointRadius: 1.5, backgroundColor: DARK, borderWidth: 0 },
        { type: 'line', order: 1, showLine: false, data: subjects.map((s, i) => ({ x: s, y: median[i] })), pointStyle: 'line', pointRadius: 2.8, pointBorderWidth: 4.4, pointBorderColor: DARK },
        { order: 2, grouped: false, barThickness: 5.2, borderSkipped: false, borderWidth: 1.4, borderColor: DARK, backgroundColor: '#e2e2e2', data: subjects.map((s, i) => ({ x: s, y: [q1[i], q3[i]] })) },
        { order: 3, grouped: false, barThickness: 2, borderWidth: 0, backgroundColor: DARK, data: subjects.map((s, i) => ({ x: s, y: [low[i], high[i]] })) }
      ]
    },
    options: {
      responsive: false, animation: false, devicePixelRatio: 1,
      layout: { autoPadding: false, padding: { top: 30 } },
      plugins: { legend: { display: false }, tooltip: { enabled: false } },
      scales: {
        x: {
          type: 'linear', offset: false, min: 0.43, max: subjects.length + 0.57,
          grid: { display: false, drawTicks: false }, border: { display: false },
          ticks: { display: false },
          title: { display: true, text: 'Subject', color: '#000', padding: 0, font: { family: FONT, size: 20 } },
          afterFit: s => { s.height = gap; }
        },
        y: {
          type: 'linear', min: yMin, max: yMax,
          afterBuildTicks: tickValues(hourTicks),
          grid: { display: false, drawTicks: false }, border: { display: false },
          ticks: { color: TICK, font: { family: FONT, size: 16 }, padding: 9, autoSkip: false },
          title: { display: true, text: 'Hours', color: '#000', padding: 0, font: { family: FONT, size: 20 } },
          afterFit: s => { s.width = axisWidth; }
        }
      }
    }
  });
}

drawHeat('heatSed', 33, 339.4, sedentaryRows, sedLevels, sedRange);
drawHeat('heatLpa', 333.3, 339.4, lpaRows, lpaLevels, lpaRange);
drawHeat('heatMvpa', 633.3, 343.2, mvpaRows, mvpaLevels, mvpaRange);

drawColourBar('barSed', 263, 66.7, 326, sedRange, sedBarTicks);
drawColourBar('barLpa', 563, 66.7, 326, lpaRange, lpaBarTicks, v => v.toFixed(1));
drawColourBar('barMvpa', 863.3, 69, 328.3, mvpaRange, mvpaBarTicks);

drawBoxes('boxSed', 370, 31, 205, 55, 57, 3.39, 14.04, sedHourTicks, sedLow, sedQ1, sedMedian, sedQ3, sedHigh, sedOutliers);
drawBoxes('boxLpa', 370, 327.4, 516, 55, 46, -0.16, 11.05, lpaHourTicks, lpaLow, lpaQ1, lpaMedian, lpaQ3, lpaHigh, lpaOutliers);
drawBoxes('boxMvpa', 374, 633.4, 810, 46, 52, -0.11, 3.81, mvpaHourTicks, mvpaLow, mvpaQ1, mvpaMedian, mvpaQ3, mvpaHigh, mvpaOutliers);
</script>
</body>
</html>
